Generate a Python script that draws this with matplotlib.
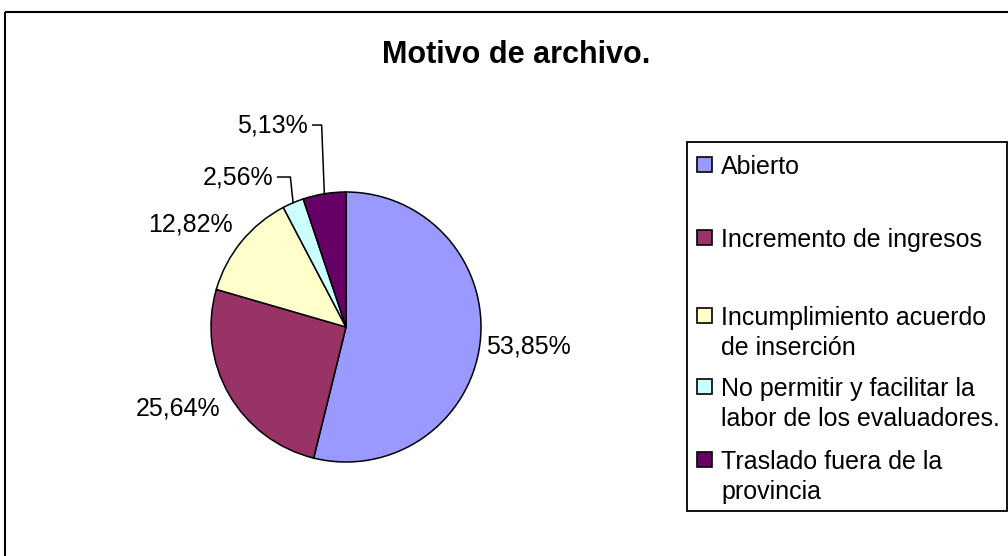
import numpy as np
import matplotlib
matplotlib.use('Agg')
import matplotlib.pyplot as plt
from matplotlib.patches import Rectangle

plt.rcParams['font.family'] = ['Liberation Sans', 'DejaVu Sans']

categories = ['Abierto', 'Incremento de ingresos', 'Incumplimiento acuerdo\nde inserción',
              'No permitir y facilitar la\nlabor de los evaluadores.', 'Traslado fuera de la\nprovincia']
values = [53.85, 25.64, 12.82, 2.56, 5.13]
pct_labels = ['53,85%', '25,64%', '12,82%', '2,56%', '5,13%']
colors = ['#9999FF', '#993366', '#FFFFCC', '#CCFFFF', '#660066']

W, H = 1008, 556
fig = plt.figure(figsize=(W / 100, H / 100), dpi=100)

# overlay in pixel coords for border / title / legend
ov = fig.add_axes([0, 0, 1, 1])
ov.set_xlim(0, W)
ov.set_ylim(H, 0)
ov.axis('off')
ov.add_patch(Rectangle((5, 12), W + 10, H + 10, fill=False, ec='black', lw=1.5))
ov.text(516, 55, 'Motivo de archivo.', ha='center', va='center', fontsize=22, fontweight='bold')

# pie
cx, cy, r = 346, 327, 135
ax = fig.add_axes([(cx - r) / W, 1 - (cy + r) / H, 2 * r / W, 2 * r / H])
wedges, _ = ax.pie(values, colors=colors, startangle=90, counterclock=False,
                   wedgeprops=dict(edgecolor='black', linewidth=1.1))
ax.set_xlim(-1, 1)
ax.set_ylim(-1, 1)
ax.set_aspect('equal')
ax.axis('off')

# label layout (axes units, radius = 1)
label_pos = [(1.348, -0.141, 'center'), (-1.244, -0.607, 'center'), (-1.156, 0.756, 'center'),
             (-0.541, 1.111, 'right'), (-0.281, 1.496, 'right')]
for i, (w, lab) in enumerate(zip(wedges, pct_labels)):
    tx, ty, ha = label_pos[i]
    ax.text(tx, ty, lab, ha=ha, va='center', fontsize=18)
    if ha == 'right':
        mid = np.deg2rad((w.theta1 + w.theta2) / 2)
        ex, ey = np.cos(mid), np.sin(mid)
        ax.plot([tx + 0.035, ex - 0.02, ex], [ty, ty, ey], color='black',
                lw=1.1, clip_on=False)

# legend
ov.add_patch(Rectangle((687, 142), 320, 369, fill=False, ec='black', lw=1.3))
entry_y = [165, 238, 316, 387, 460]
for c, lab, y in zip(colors, categories, entry_y):
    ov.add_patch(Rectangle((697, y - 8), 15, 15, fc=c, ec='black', lw=1.2))
    ov.text(721, y - 10, lab, ha='left', va='top', fontsize=18, linespacing=1.3)

fig.savefig('out.png', dpi=100)
